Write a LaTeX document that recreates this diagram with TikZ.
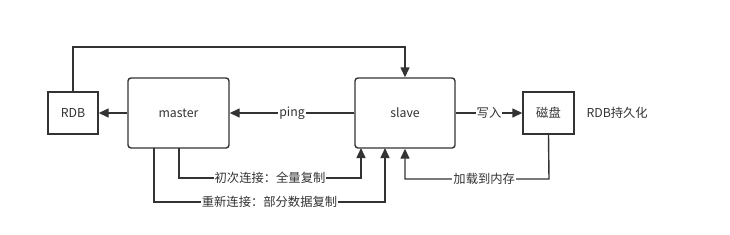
\documentclass[tikz,border=0pt]{standalone}
\usepackage{fontspec}
\setmainfont{Noto Sans CJK SC}
\usetikzlibrary{arrows.meta}
\definecolor{ink}{HTML}{333333}
\begin{document}
\begin{tikzpicture}[x=1pt,y=-1pt,
  box/.style={draw=ink,line width=1.4pt,inner sep=0pt,text=ink,font=\fontsize{12.3}{14}\selectfont},
  roundbox/.style={box,rounded corners=3pt},
  conn/.style={draw=ink,line width=1.4pt},
  arr/.style={conn,-{Triangle[length=10pt,width=9pt]}},
  lbl/.style={fill=white,inner sep=1pt,text=ink,font=\fontsize{12.3}{14}\selectfont}]
\useasboundingbox[fill=white] (0,0) rectangle (730,234);
\node[box,minimum width=50pt,minimum height=42pt] (rdb) at (73,113) {RDB};
\node[roundbox,minimum width=101pt,minimum height=70pt] (master) at (178.5,113) {master};
\node[roundbox,minimum width=100pt,minimum height=70pt] (slave) at (405,113) {slave};
\node[box,minimum width=51pt,minimum height=42pt] (disk) at (548.5,113) {磁盘};
\node[text=ink,font=\fontsize{12.3}{14}\selectfont,anchor=west] (note) at (583,113) {RDB持久化};
% top line
\coordinate (top) at (405,47);
\draw[arr] (rdb.north) -- (rdb.north |- top) -- (top) -- (slave.north);
% master -> rdb
\draw[arr] (master.west) -- (rdb.east);
% ping
\draw[arr] (slave.west) -- node[lbl,pos=0.5] {ping} (master.east);
% write
\draw[arr] (slave.east) -- node[lbl,pos=0.5] {写入} (disk.west);
% full sync
\coordinate (a1) at (179,148);
\coordinate (a2) at (361,148);
\draw[arr] (a1) -- (179,178) -- node[lbl,pos=0.5] {初次连接：全量复制} (361,178) -- (a2);
% partial sync
\coordinate (b1) at (154,148);
\coordinate (b2) at (385,148);
\draw[arr] (b1) -- (154,202) -- node[lbl,pos=0.5] {重新连接：部分数据复制} (385,202) -- (b2);
% load
\draw[arr] (disk.south) -- (549,179) -- node[lbl,pos=0.45] {加载到内存} (405,179) -- (slave.south);
\end{tikzpicture}
\end{document}
